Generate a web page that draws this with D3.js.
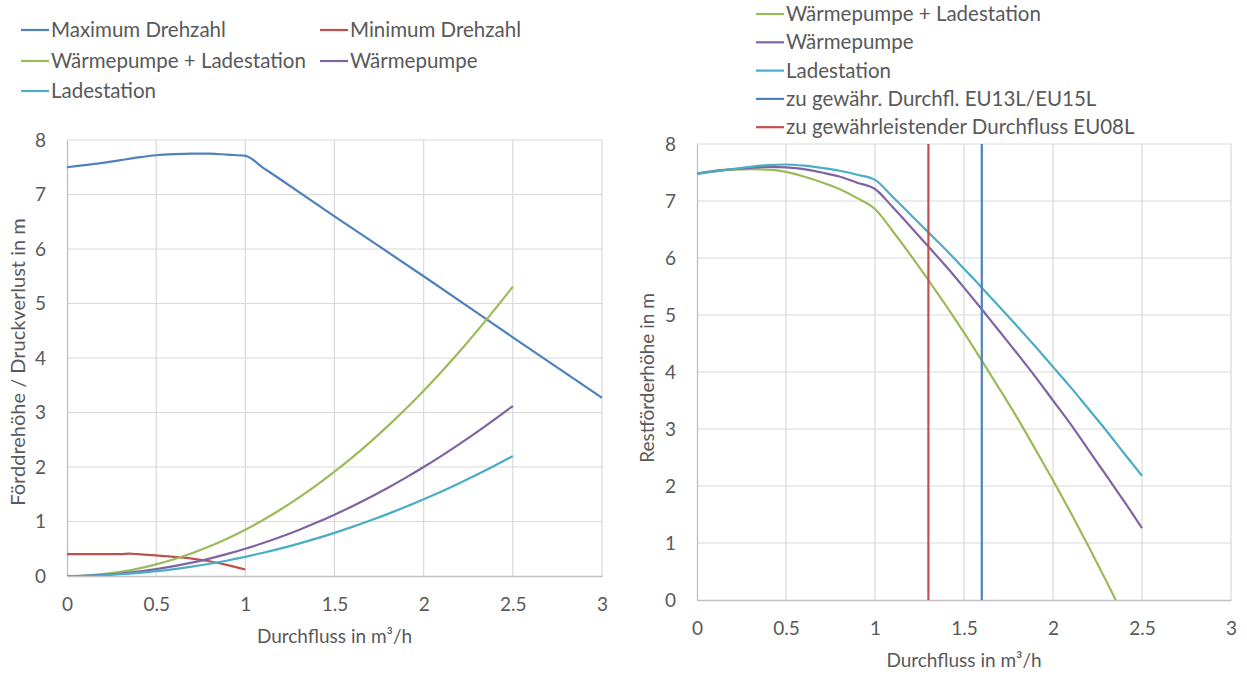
<!DOCTYPE html>
<html><head><meta charset="utf-8">
<script src="https://cdn.jsdelivr.net/npm/d3@7"></script>
<style>
body{margin:0;background:#fff;}
text{font-family:Lato,"Open Sans",sans-serif;fill:#595959;}
</style></head>
<body><svg id="c" width="1247" height="675"></svg>
<script>
// ---------- data ----------
const xTicks = [0,0.5,1,1.5,2,2.5,3];
const xTickLabels = ["0","0.5","1","1.5","2","2.5","3"];
const yTicks = [0,1,2,3,4,5,6,7,8];

// left chart
const maxX = [0,0.1,0.2,0.3,0.4,0.5,0.6,0.7,0.8,0.9,1.0,1.1,1.2,1.5,2.0,2.5,3.0];
const maxY = [7.5,7.54,7.58,7.63,7.68,7.72,7.74,7.75,7.75,7.73,7.71,7.49,7.27,6.6,5.5,4.38,3.27];
const minX = [0,0.1,0.2,0.3,0.35,0.4,0.5,0.6,0.7,0.8,0.9,1.0];
const minY = [0.4,0.4,0.4,0.4,0.41,0.4,0.38,0.35,0.32,0.27,0.2,0.12];
const lossX = [0,0.1,0.2,0.3,0.4,0.5,0.6,0.7,0.8,0.9,1.0,1.1,1.2,1.3,1.4,1.5,1.6,1.7,1.8,1.9,2.0,2.1,2.2,2.3,2.4,2.5];
const lossWPL = [0,0.008,0.034,0.077,0.136,0.213,0.306,0.417,0.544,0.689,0.85,1.029,1.224,1.437,1.666,1.913,2.176,2.457,2.754,3.069,3.4,3.749,4.114,4.497,4.896,5.31];
const lossWP  = [0,0.005,0.02,0.045,0.08,0.125,0.18,0.245,0.32,0.405,0.5,0.605,0.72,0.845,0.98,1.125,1.28,1.445,1.62,1.805,2.0,2.205,2.42,2.645,2.88,3.12];
const lossL   = [0,0.0035,0.014,0.032,0.056,0.088,0.127,0.172,0.225,0.285,0.352,0.426,0.507,0.595,0.69,0.792,0.901,1.017,1.14,1.27,1.408,1.552,1.704,1.862,2.028,2.2];

// right chart
const restX = [0,0.1,0.2,0.3,0.4,0.5,0.6,0.7,0.8,0.9,1.0,1.1,1.2,1.3,1.4,1.5,1.6,1.7,1.8,1.9,2.0,2.1,2.2,2.3,2.4,2.5];
const restWPL = [7.48,7.52,7.55,7.56,7.55,7.51,7.43,7.33,7.21,7.05,6.86,6.47,6.05,5.61,5.16,4.69,4.2,3.7,3.19,2.65,2.1,1.53,0.94,0.33,-0.3,-0.92];
const restWP  = [7.48,7.53,7.56,7.58,7.6,7.59,7.56,7.5,7.43,7.32,7.21,6.89,6.55,6.2,5.85,5.48,5.1,4.71,4.32,3.92,3.5,3.08,2.63,2.18,1.73,1.26];
const restL   = [7.48,7.52,7.56,7.6,7.63,7.64,7.62,7.58,7.53,7.46,7.37,7.07,6.76,6.45,6.14,5.81,5.48,5.14,4.8,4.45,4.09,3.73,3.35,2.97,2.57,2.18];
const flowEU13 = 1.6;
const flowEU08 = 1.3;

const leftNames = ["Maximum Drehzahl","Minimum Drehzahl","Wärmepumpe + Ladestation","Wärmepumpe","Ladestation"];
const rightNames = ["Wärmepumpe + Ladestation","Wärmepumpe","Ladestation","zu gewähr. Durchfl. EU13L/EU15L","zu gewährleistender Durchfluss EU08L"];

// ---------- styles ----------
const C = {blue:"#4F81BD", red:"#C0504D", green:"#9BBB59", purple:"#8064A2", cyan:"#4BACC6"};
const svg = d3.select("#c");
const zip = (xs, ys) => xs.map((x,i)=>[x,ys[i]]);

function panel(opt){
  const g = svg.append("g");
  const x = d3.scaleLinear().domain([0,3]).range([opt.x0,opt.x1]);
  const y = d3.scaleLinear().domain([0,8]).range([opt.y0,opt.y1]);
  g.append("g").selectAll("line").data(yTicks.filter(d=>d>0)).join("line")
    .attr("x1",opt.x0).attr("x2",opt.x1).attr("y1",d=>y(d)).attr("y2",d=>y(d))
    .attr("stroke","#D9D9D9").attr("stroke-width",1.2);
  g.append("g").selectAll("line").data(xTicks.filter(d=>d>0)).join("line")
    .attr("x1",d=>x(d)).attr("x2",d=>x(d)).attr("y1",opt.y0).attr("y2",opt.y1)
    .attr("stroke","#D9D9D9").attr("stroke-width",1.2);
  const ax = g.append("g").attr("transform",`translate(0,${opt.y0})`)
    .call(d3.axisBottom(x).tickValues(xTicks).tickFormat((d,i)=>xTickLabels[i]).tickSize(0).tickPadding(opt.xPad));
  ax.select(".domain").attr("stroke","#BFBFBF").attr("stroke-width",1.3);
  ax.selectAll("text").style("font-size","19px").attr("fill","#595959");
  const ay = g.append("g").attr("transform",`translate(${opt.x0},0)`)
    .call(d3.axisLeft(y).tickValues(yTicks).tickSize(0).tickPadding(opt.yPad));
  ay.select(".domain").attr("stroke","#BFBFBF").attr("stroke-width",1.3);
  ay.selectAll("text").style("font-size","19px").attr("fill","#595959");
  g.append("text").attr("x",(opt.x0+opt.x1)/2).attr("y",opt.xTitleY).attr("text-anchor","middle")
    .style("font-size","19px").text("Durchfluss  in m³/h");
  g.append("text").attr("transform",`translate(${opt.yTitleX},${opt.yTitleC}) rotate(-90)`)
    .attr("text-anchor","middle").style("font-size",opt.yTitleSize).text(opt.yTitle);
  const clipId = "clip"+opt.x0;
  svg.append("clipPath").attr("id",clipId).append("rect")
    .attr("x",opt.x0).attr("y",opt.y1-5).attr("width",opt.x1-opt.x0+5).attr("height",opt.y0-opt.y1+5);
  const lines = g.append("g").attr("clip-path",`url(#${clipId})`);
  return {x,y,lines};
}

const line = (p) => d3.line().x(d=>p.x(d[0])).y(d=>p.y(d[1])).curve(d3.curveMonotoneX);

// left panel
const L = panel({x0:67,x1:602,y0:576,y1:140,xPad:22,yPad:21,xTitleY:643,yTitleX:25,yTitleC:362,yTitleSize:"20px",yTitle:"Förddrehöhe / Druckverlust in m"});
[[zip(maxX,maxY),C.blue],[zip(minX,minY),C.red],[zip(lossX,lossWPL),C.green],[zip(lossX,lossWP),C.purple],[zip(lossX,lossL),C.cyan]]
 .forEach(([d,c])=>L.lines.append("path").attr("d",line(L)(d)).attr("fill","none").attr("stroke",c).attr("stroke-width",2.2));

// right panel
const R = panel({x0:697,x1:1231,y0:600,y1:144,xPad:22,yPad:21,xTitleY:667,yTitleX:654,yTitleC:378,yTitleSize:"19px",yTitle:"Restförderhöhe  in m"});
[[zip(restX,restWPL),C.green],[zip(restX,restWP),C.purple],[zip(restX,restL),C.cyan]]
 .forEach(([d,c])=>R.lines.append("path").attr("d",line(R)(d)).attr("fill","none").attr("stroke",c).attr("stroke-width",2.2));
[[flowEU13,C.blue],[flowEU08,C.red]].forEach(([f,c])=>
  R.lines.append("line").attr("x1",R.x(f)).attr("x2",R.x(f)).attr("y1",R.y(0)).attr("y2",R.y(8))
   .attr("stroke",c).attr("stroke-width",2.2));

// legends
const leftCols = [C.blue,C.red,C.green,C.purple,C.cyan];
const leftPos = [[21,30],[320,30],[21,61],[320,61],[21,91]];
leftNames.forEach((n,i)=>{
  const [lx,ly]=leftPos[i];
  svg.append("line").attr("x1",lx).attr("x2",lx+28).attr("y1",ly).attr("y2",ly).attr("stroke",leftCols[i]).attr("stroke-width",2.2);
  svg.append("text").attr("x",lx+30).attr("y",ly).attr("dy","0.35em").style("font-size","20.5px").text(n);
});
const rightCols = [C.green,C.purple,C.cyan,C.blue,C.red];
rightNames.forEach((n,i)=>{
  const ly = 14 + i*28.3;
  svg.append("line").attr("x1",756).attr("x2",784).attr("y1",ly).attr("y2",ly).attr("stroke",rightCols[i]).attr("stroke-width",2.2);
  svg.append("text").attr("x",786).attr("y",ly).attr("dy","0.35em").style("font-size","20.5px").text(n);
});
</script></body></html>
